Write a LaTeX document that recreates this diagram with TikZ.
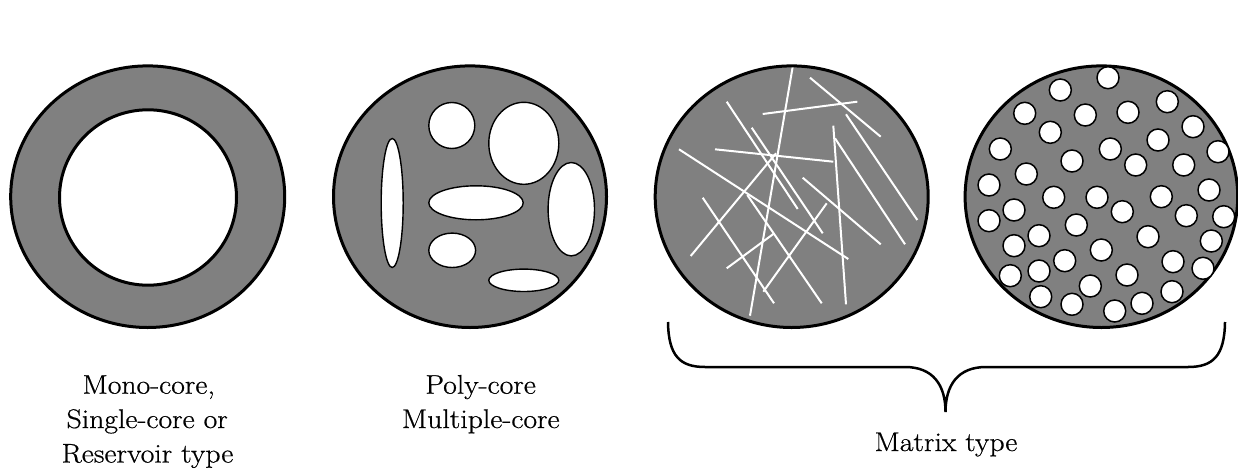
\documentclass[tikz,border=0pt]{standalone}
\usepackage{fontspec}
\setmainfont{Latin Modern Roman}[FakeStretch=1.1,FakeBold=0.6]
\definecolor{fillgray}{RGB}{128,128,128}
\begin{document}
\begin{tikzpicture}[x=1pt,y=-1pt,
  bodyfill/.style={fill=fillgray},
  bodyline/.style={draw=black,line width=3pt},
  hole/.style={draw=black,line width=1.4pt,fill=white},
  fibre/.style={draw=white,line width=2pt},
  bead/.style={draw=black,line width=1.5pt,fill=white},
  lbl/.style={font=\fontsize{27}{34}\selectfont,anchor=base,inner sep=0pt},
  brace/.style={draw=black,line width=2.5pt}]
\useasboundingbox (0,0) rectangle (1238,471);
\fill[white] (0,0) rectangle (1238,471);

% ---- 1: mono-core
\path[bodyfill,bodyline] (147.7,196.7) ellipse [x radius=137pt, y radius=130.8pt];
\path[draw=black,line width=3pt,fill=white] (148,197.5) ellipse [x radius=88.5pt, y radius=87.7pt];

% ---- 2: poly-core
\path[bodyfill,bodyline] (470,196.7) ellipse [x radius=136.5pt, y radius=130.8pt];
\path[hole] (392.2,203)   ellipse [x radius=11pt,   y radius=64.5pt];
\path[hole] (451.8,125.5) ellipse [x radius=23pt,   y radius=23pt];
\path[hole] (523.8,143.3) ellipse [x radius=35pt,   y radius=41pt];
\path[hole] (476,202.8)   ellipse [x radius=47.2pt, y radius=17pt];
\path[hole] (571.3,209.2) ellipse [x radius=23.2pt, y radius=46.7pt];
\path[hole] (452.2,250.3) ellipse [x radius=23.4pt, y radius=17.2pt];
\path[hole] (523.8,280.3) ellipse [x radius=35pt,   y radius=11.2pt];

% ---- 3: fibre matrix
\path[bodyfill] (791.7,196.7) ellipse [x radius=136.5pt, y radius=130.8pt];
\draw[fibre] (792.7,66.7) -- (750,315.7);
\draw[fibre] (810,77.7) -- (880.7,136.7);
\draw[fibre] (762.7,114) -- (857.3,101.7);
\draw[fibre] (726.7,101.7) -- (797.7,209);
\draw[fibre] (751.7,127.7) -- (822.7,233.3);
\draw[fibre] (715,149.3) -- (833.3,161.7);
\draw[fibre] (833.3,125.7) -- (846,304.3);
\draw[fibre] (846,114.3) -- (917.3,220);
\draw[fibre] (835,138.3) -- (905,244.3);
\draw[fibre] (679,149.3) -- (848.3,259);
\draw[fibre] (776,153.3) -- (690.7,256);
\draw[fibre] (802.7,177.7) -- (880.7,244.3);
\draw[fibre] (702.7,197.7) -- (774,303.3);
\draw[fibre] (747.3,195) -- (821.7,303.3);
\draw[fibre] (826.7,203.3) -- (763.3,291.7);
\draw[fibre] (773.3,234) -- (726.7,268.3);
\path[bodyline] (791.7,196.7) ellipse [x radius=136.5pt, y radius=130.8pt];

% ---- 4: bead matrix
\path[bodyfill,bodyline] (1101.4,196.7) ellipse [x radius=136.3pt, y radius=130.8pt];
\foreach \bx/\by in {
 1108.0/77.7, 1060.3/90.0, 1024.7/113.3, 1085.3/115.0, 1128.0/112.3,
 1167.3/101.7, 1050.3/132.3, 1193.0/126.7, 1158.0/140.0, 1000.3/149.0,
 1110.3/149.0, 1218.0/151.7, 1072.0/161.0, 1135.7/165.0, 1183.7/165.0,
 1026.3/174.0, 989.0/185.0, 1053.7/197.3, 1097.0/197.3, 1161.3/196.7,
 1209.0/190.0, 1014.0/210.0, 1122.3/211.7, 1186.3/215.7, 1223.7/216.7,
 989.0/220.7, 1076.3/225.0, 1039.0/235.7, 1148.0/236.7, 1211.3/241.0,
 1014.0/245.7, 1101.3/250.0, 1064.7/260.7, 1173.0/261.7, 1010.3/275.7,
 1039.0/271.0, 1127.0/275.0, 1203.0/268.3, 1090.3/286.0, 1172.0/291.7,
 1040.7/296.7, 1072.0/304.3, 1142.0/303.3, 1114.7/311.0}
  \path[bead] (\bx,\by) circle [radius=11pt];

% ---- brace
\coordinate (bl) at (668,322);
\coordinate (tip) at (945.5,412);
\coordinate (br) at (1225,322);
\draw[brace] (bl) .. controls (668.5,356) and (680,367) .. (705,367) -- (905,367)
  .. controls (933,367) and (945.5,385) .. (tip)
  .. controls (945.5,385) and (958,367) .. (986,367) -- (1188,367)
  .. controls (1213,367) and (1224.5,356) .. (br);

% ---- labels
\node[lbl] (mono1) at (148.7,393.7) {Mono-core,};
\node[lbl] (mono2) at (147.2,428) {Single-core or};
\node[lbl] (mono3) at (147.5,462.5) {Reservoir type};
\node[lbl] (poly1) at (480.6,393.7) {Poly-core};
\node[lbl] (poly2) at (480.8,428) {Multiple-core};
\node[lbl] (matrix) at (946,451) {Matrix type};
\end{tikzpicture}
\end{document}
